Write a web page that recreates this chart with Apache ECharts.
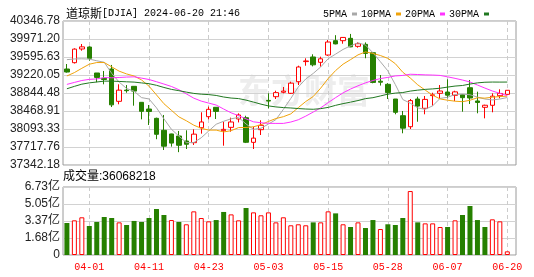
<!DOCTYPE html>
<html><head><meta charset="utf-8">
<script src="https://cdn.jsdelivr.net/npm/echarts@6/dist/echarts.min.js"></script>
<style>html,body{margin:0;padding:0;background:#fff}#c{width:534px;height:277px}</style>
</head><body><div id="c"></div>
<script>
const dates = ['03-26','03-27','03-28','04-01','04-02','04-03','04-04','04-05','04-08','04-09',
 '04-10','04-11','04-12','04-15','04-16','04-17','04-18','04-19','04-22','04-23',
 '04-24','04-25','04-26','04-29','04-30','05-01','05-02','05-03','05-06','05-07',
 '05-08','05-09','05-10','05-13','05-14','05-15','05-16','05-17','05-20','05-21',
 '05-22','05-23','05-24','05-28','05-29','05-30','05-31','06-03','06-04','06-05',
 '06-06','06-07','06-10','06-11','06-12','06-13','06-14','06-17','06-18','06-20'];
const xTickLabels = ['04-01','04-11','04-23','05-03','05-15','05-28','06-07','06-20'];
const openP = [39345,39477,39763,39804,39262,39150,39345,38671,38905,38984,
 38650,38510,38316,38066,37990,37947,37843,37808,38120,38350,
 38546,38058,38128,38302,38329,37815,38079,38690,38767,38860,
 38838,39080,39500,39596,39485,39637,39936,39936,39985,39818,
 39860,39685,39090,39026,38719,38371,38141,38719,38525,38790,
 38838,38865,38796,38809,38955,38678,38546,38588,38788,38817];
const closeP = [39282,39760,39807,39567,39170,39127,38597,38904,38893,38884,
 38462,38459,37983,37735,37799,37753,37775,37986,38240,38504,
 38461,38086,38240,38386,37816,37903,38170,38676,38852,38884,
 39050,39387,39513,39432,39558,39908,39869,40004,39807,39873,
 39671,39065,39070,38853,38442,38111,38686,38571,38711,38807,
 38886,38799,38868,38747,38740,38647,38589,38778,38835,38901];
const lowP = [39270,39460,39727,39518,39068,39026,38552,38609,38850,38580,
 38295,38177,37880,37655,37725,37610,37676,37760,37996,38296,
 38302,37745,38037,38230,37800,37676,37968,38525,38719,38838,
 38825,39011,39414,39400,39393,39620,39860,39873,39800,39790,
 39569,39047,39000,38719,38400,38004,38093,38245,38400,38580,
 38733,38733,38677,38454,38615,38421,38316,38442,38733,38810];
const highP = [39449,39777,39867,39819,39262,39304,39430,39026,39010,38990,
 38650,38594,38330,38386,37995,38052,38066,38087,38442,38560,
 38550,38245,38330,38420,38370,38141,38275,38838,38892,38970,
 39080,39414,39568,39652,39602,39950,40051,40010,40077,39902,
 39900,39700,39220,39050,38719,38469,38719,38767,38782,38850,
 39011,39130,38892,38810,39116,38872,38600,38838,38921,38905];
const ma5 = [39540,39555,39558,39552,39517,39486,39254,39073,38938,38881,
 38748,38720,38536,38305,38088,37946,37809,37810,37911,38052,
 38193,38255,38306,38335,38198,38086,38109,38196,38289,38503,
 38732,38970,39137,39253,39388,39560,39656,39754,39829,39892,
 39845,39684,39497,39306,39020,38708,38632,38533,38504,38577,
 38732,38755,38814,38821,38808,38760,38718,38700,38718,38750];
const ma10 = [39200,39270,39360,39445,39480,39480,39390,39300,39242,39199,
 39117,38987,38805,38621,38484,38347,38265,38173,38108,38070,
 38070,38032,38058,38123,38125,38140,38182,38251,38312,38350,
 38409,38539,38667,38771,38946,39146,39313,39446,39541,39640,
 39702,39670,39626,39568,39456,39277,39158,39015,38905,38799,
 38720,38694,38673,38663,38693,38746,38737,38757,38770,38779];
const ma20 = [39024,39065,39105,39129,39138,39166,39162,39168,39177,39182,
 39155,39126,39080,39031,38981,38913,38826,38737,38675,38634,
 38593,38510,38431,38372,38305,38243,38223,38212,38210,38210,
 38239,38286,38362,38447,38535,38643,38748,38848,38927,38995,
 39056,39105,39146,39170,39201,39211,39236,39230,39223,39219,
 39211,39182,39150,39115,39074,39011,38947,38886,38837,38789];
const ma30 = [38933,38983,39029,39056,39074,39092,39092,39086,39078,39072,
 39055,39039,39005,38960,38920,38893,38863,38836,38820,38811,
 38793,38761,38739,38728,38696,38655,38612,38575,38554,38540,
 38532,38520,38510,38505,38518,38544,38587,38623,38654,38687,
 38727,38747,38783,38821,38842,38854,38884,38904,38920,38930,
 38944,38968,38989,39001,39031,39056,39069,39073,39072,39073];
// volume in 亿
const volume = [3.17,3.43,3.73,2.87,3.27,3.76,3.66,3.23,2.97,3.37,
 3.27,3.66,4.55,3.96,3.46,3.27,3.04,4.32,3.66,3.33,
 3.46,4.26,4.02,3.43,4.65,4.22,3.93,4.22,3.23,3.73,
 2.94,3.04,2.94,3.23,3.23,4.32,4.12,3.04,2.77,3.23,
 2.67,3.46,2.57,3.04,2.97,3.66,6.33,3.23,3.13,3.13,
 2.77,2.77,3.43,3.96,4.85,3.46,2.77,3.53,3.33,0.3607];
const volDir = [-1,1,1,-1,-1,-1,-1,1,-1,-1,
 -1,-1,-1,-1,1,-1,1,1,1,1,
 -1,-1,1,1,-1,1,1,1,1,1,
 1,1,1,-1,1,1,-1,1,-1,1,
 -1,-1,1,-1,-1,-1,1,-1,1,1,
 1,-1,1,-1,-1,-1,-1,1,1,1];
const priceTicks = ['37342.18','37717.76','38093.33','38468.91','38844.48','39220.05','39595.63','39971.20','40346.78'];
const volTicks = ['0','1.68亿','3.37亿','5.05亿','6.73亿'];
const lastVolume = '36068218';

const UP = '#ff0000', DOWN = '#268000';
const GRIDC = '#d2d2d2', BORDER = '#9a9a9a';
const priceMin = parseFloat(priceTicks[0]), priceMax = parseFloat(priceTicks[priceTicks.length-1]);
const volMax = parseFloat(volTicks[volTicks.length-1]);
const labelSet = new Set(xTickLabels);
const showTick = (i) => labelSet.has(dates[i]);
const dashed = {show:true, interval:(i)=>showTick(i), lineStyle:{color:'#cccccc', type:[4,3], width:1}};

const chart = echarts.init(document.getElementById('c'));
chart.setOption({
  animation:false,
  title:{
    text:'{c|道琼斯}{a|[DJIA] 2024-06-20 21:46}', left:61, top:2,
    textStyle:{fontWeight:'normal', rich:{
      c:{fontFamily:'Noto Sans CJK SC', fontSize:12, fontWeight:'normal', color:'#000'},
      a:{fontFamily:'Liberation Mono', fontSize:10, fontWeight:'normal', color:'#000'}
    }}
  },
  legend:{
    right:40, top:4, align:'right', icon:'rect', itemWidth:5, itemHeight:3, itemGap:4,
    selectedMode:false,
    textStyle:{fontFamily:'Liberation Mono', fontSize:10, color:'#000'},
    data:['5PMA','10PMA','20PMA','30PMA']
  },
  graphic:[
    {type:'text', left:238, top:74, z:0, silent:true,
     style:{text:'东方财富', fontSize:33, fontWeight:'bold', fontFamily:'Noto Sans CJK SC', fill:'#ededed'}},
    {type:'text', left:63, top:171, silent:true,
     style:{text:'成交量:' + lastVolume, fontSize:12, fontFamily:'Liberation Sans, Noto Sans CJK SC', fill:'#000'}}
  ],
  grid:[
    {left:63, right:18, top:21, height:144, show:true, borderColor:BORDER, borderWidth:1, backgroundColor:'transparent'},
    {left:66.9, right:26.7, top:21, height:144},
    {left:63, right:18, top:187, height:68, show:true, borderColor:BORDER, borderWidth:1, backgroundColor:'transparent'},
    {left:66.9, right:26.7, top:187, height:68}
  ],
  xAxis:[
    {gridIndex:0, type:'value', show:false, min:0, max:1},
    {gridIndex:1, type:'category', data:dates, boundaryGap:false,
     axisLine:{show:false}, axisTick:{show:false}, axisLabel:{show:false}, splitLine:dashed},
    {gridIndex:2, type:'value', show:false, min:0, max:1},
    {gridIndex:3, type:'category', data:dates, boundaryGap:false,
     axisLine:{show:false}, axisTick:{show:false},
     axisLabel:{interval:(i)=>showTick(i), color:'#ff0000', fontFamily:'Liberation Mono', fontSize:10, margin:7},
     splitLine:dashed}
  ],
  yAxis:[
    {gridIndex:0, type:'value', min:0, max:priceTicks.length-1, interval:1,
     axisLine:{show:false}, axisTick:{show:false},
     axisLabel:{formatter:(v)=>priceTicks[Math.round(v)], color:'#222', fontFamily:'Liberation Sans', fontSize:12, margin:3},
     splitLine:{lineStyle:{color:GRIDC}}},
    {gridIndex:1, type:'value', min:priceMin, max:priceMax, show:false, splitLine:{show:false}},
    {gridIndex:2, type:'value', min:0, max:volTicks.length-1, interval:1,
     axisLine:{show:false}, axisTick:{show:false},
     axisLabel:{formatter:(v)=>volTicks[Math.round(v)], color:'#222', fontFamily:'Liberation Sans, Noto Sans CJK SC', fontSize:12, margin:3},
     splitLine:{lineStyle:{color:GRIDC}}},
    {gridIndex:3, type:'value', min:0, max:volMax, show:false, splitLine:{show:false}}
  ],
  series:[
    {type:'candlestick', xAxisIndex:1, yAxisIndex:1, barWidth:5, clip:false,
     data:dates.map((d,i)=>[openP[i], closeP[i], lowP[i], highP[i]]),
     itemStyle:{color:'#ffffff', color0:DOWN, borderColor:UP, borderColor0:DOWN, borderWidth:1}},
    {name:'5PMA', type:'line', xAxisIndex:1, yAxisIndex:1, data:ma5, symbol:'none', color:'#a8a8a8', lineStyle:{width:1, color:'#a8a8a8'}},
    {name:'10PMA', type:'line', xAxisIndex:1, yAxisIndex:1, data:ma10, symbol:'none', color:'#f0a30a', lineStyle:{width:1, color:'#f0a30a'}},
    {name:'20PMA', type:'line', xAxisIndex:1, yAxisIndex:1, data:ma20, symbol:'none', color:'#ff33ff', lineStyle:{width:1, color:'#ff33ff'}},
    {name:'30PMA', type:'line', xAxisIndex:1, yAxisIndex:1, data:ma30, symbol:'none', color:'#217821', lineStyle:{width:1, color:'#217821'}},
    {type:'bar', xAxisIndex:3, yAxisIndex:3, barWidth:5, clip:false,
     data:volume.map((v,i)=>({value:v, itemStyle: volDir[i] > 0
        ? {color:'#ffffff', borderColor:UP, borderWidth:1}
        : {color:DOWN, borderWidth:0}}))}
  ]
});
</script></body></html>
